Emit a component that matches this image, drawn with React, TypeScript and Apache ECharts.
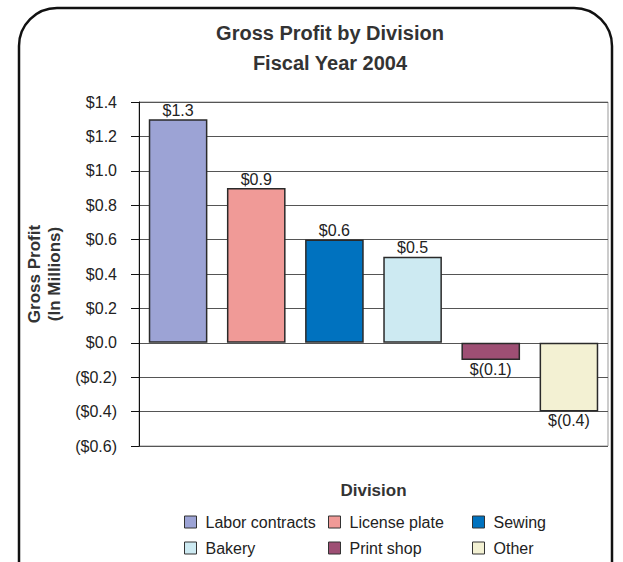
import React, { useEffect, useRef } from "react";
import * as echarts from "echarts";

const divisions = ["Labor contracts", "License plate", "Sewing", "Bakery", "Print shop", "Other"];
const profits = [1.3, 0.9, 0.6, 0.5, -0.1, -0.4];
const colors = ["#9CA3D5", "#F09A97", "#0072BF", "#CDEAF2", "#9E4F74", "#F3F1D3"];
const yTicks = { min: -0.6, max: 1.4, interval: 0.2 };

const FONT = "'Liberation Sans', Arial, sans-serif";

const fmtAxis = (v: number) => {
  const a = Math.abs(v).toFixed(1);
  return v < -1e-9 ? `($${a})` : `$${a}`;
};
const fmtBar = (v: number) => (v < 0 ? `$(${Math.abs(v).toFixed(1)})` : `$${v.toFixed(1)}`);

export default function App() {
  const ref = useRef<HTMLDivElement>(null);
  useEffect(() => {
    const chart = echarts.init(ref.current!, null, { renderer: "svg" });
    const series = divisions.map((name, i) => ({
      name,
      type: "bar",
      barGap: "-100%",
      barWidth: "75%",
      data: divisions.map((_, j) => (j === i ? profits[i] : "-")),
      itemStyle: { color: colors[i], borderColor: "#2a2a2a", borderWidth: 1.5 },
      label: {
        show: true,
        position: profits[i] < 0 ? "bottom" : "top",
        distance: 1,
        formatter: (p: any) => fmtBar(p.value),
        fontFamily: FONT,
        fontSize: 16,
        color: "#222",
      },
    }));
    const legendCol = (names: string[], left: number) => ({
      data: names,
      left,
      top: 514,
      padding: 0,
      orient: "vertical",
      itemGap: 10,
      itemWidth: 12,
      itemHeight: 12,
      icon: "rect",
      itemStyle: { borderColor: "#333", borderWidth: 1 },
      textStyle: { fontFamily: FONT, fontSize: 16, color: "#222", padding: [0, 0, 0, 4] },
      selectedMode: false,
    });
    chart.setOption({
      animation: false,
      backgroundColor: "#fff",
      graphic: [
        {
          type: "rect",
          shape: { x: 19, y: 8, width: 593, height: 620, r: 38 },
          style: { fill: "none", stroke: "#111", lineWidth: 2.5 },
          silent: true,
        },
      ],
      title: {
        text: "Gross Profit by Division\nFiscal Year 2004",
        left: 330,
        top: 18,
        textAlign: "center",
        padding: 0,
        textStyle: {
          fontFamily: FONT,
          fontSize: 20,
          fontWeight: "bold",
          color: "#333",
          lineHeight: 30,
        },
      },
      legend: [
        legendCol(["Labor contracts", "Bakery"], 184),
        legendCol(["License plate", "Print shop"], 328),
        legendCol(["Sewing", "Other"], 472),
      ],
      grid: {
        left: 139,
        right: 15,
        top: 102,
        bottom: 116,
        outerBoundsMode: "none",
        show: true,
        borderColor: "#999",
        borderWidth: 1,
      },
      xAxis: {
        type: "category",
        data: divisions,
        name: "Division",
        nameLocation: "middle",
        nameGap: 36,
        nameTextStyle: { fontFamily: FONT, fontSize: 17, fontWeight: "bold", color: "#333" },
        axisLine: { show: false },
        axisTick: { show: false },
        axisLabel: { show: false },
      },
      yAxis: {
        type: "value",
        min: yTicks.min,
        max: yTicks.max,
        interval: yTicks.interval,
        name: "Gross Profit\n(In Millions)",
        nameLocation: "middle",
        nameGap: 68,
        nameRotate: 90,
        nameTextStyle: { fontFamily: FONT, fontSize: 17, fontWeight: "bold", color: "#333", lineHeight: 20 },
        axisLine: { show: true, lineStyle: { color: "#111", width: 1 } },
        axisTick: { show: true, length: 8, lineStyle: { color: "#111" } },
        axisLabel: {
          formatter: fmtAxis,
          margin: 22,
          fontFamily: FONT,
          fontSize: 16,
          color: "#222",
        },
        splitLine: { show: true, lineStyle: { color: "#555", width: 1 } },
      },
      series,
    });
    return () => chart.dispose();
  }, []);
  return <div ref={ref} style={{ position: "fixed", left: 0, top: 0, width: 623, height: 562 }} />;
}
